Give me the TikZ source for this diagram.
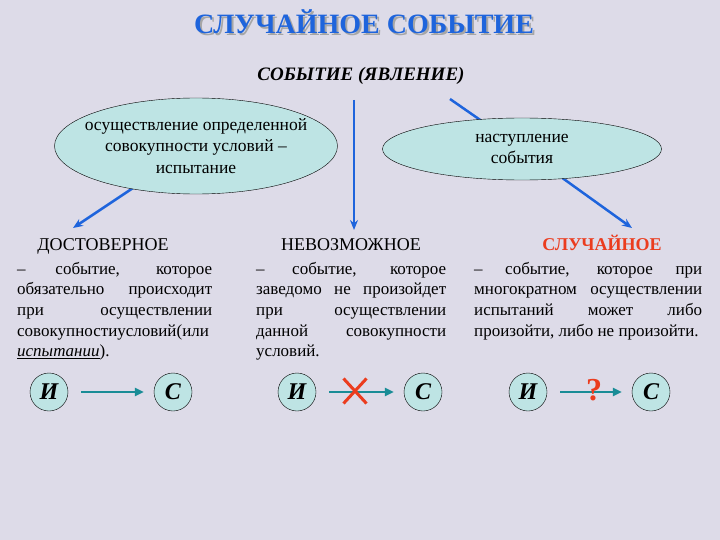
\documentclass[tikz,border=0pt]{standalone}
\usepackage{fontspec}
\setmainfont{Liberation Serif}
\usetikzlibrary{arrows.meta,shapes.geometric,shapes.misc}
\definecolor{fon}{RGB}{221,219,232}
\definecolor{sinij}{RGB}{30,100,220}
\definecolor{birjuza}{RGB}{190,228,228}
\definecolor{morskoj}{RGB}{25,140,150}
\definecolor{krasnyj}{RGB}{235,60,30}
\begin{document}
\begin{tikzpicture}[x=1pt,y=-1pt,
		oval/.style={ellipse,draw,fill=birjuza,inner xsep=-12pt,inner ysep=-6pt,align=center,font=\fontsize{17.5}{21.5}\selectfont},
		strela/.style={sinij,line width=2.5pt,-{Stealth[length=10pt,width=8pt]}},
		kolonka/.style={anchor=north west,inner sep=0pt,text width=#1,align=justify,font=\fontsize{17}{20.6}\selectfont},
		zag/.style={anchor=base,font=\fontsize{18}{20}\selectfont},
		krug/.style={circle,draw,fill=birjuza,minimum size=38pt,inner sep=0pt,font=\fontsize{24}{24}\selectfont\bfseries\itshape},
		svjaz/.style={morskoj,line width=2.5pt,shorten <=13pt,shorten >=10pt,-{Triangle[length=9pt,width=8pt]}}]
	\fill[fon] (0,0) rectangle (720,540);
	% zagolovok
	\node[gray!70,font=\fontsize{28}{30}\selectfont\bfseries] at (366,24) {СЛУЧАЙНОЕ СОБЫТИЕ};
	\node[sinij,font=\fontsize{28}{30}\selectfont\bfseries] (titul) at (364,22) {СЛУЧАЙНОЕ СОБЫТИЕ};
	\node[font=\fontsize{19}{21}\selectfont\bfseries\itshape] (javl) at (361,76) {СОБЫТИЕ (ЯВЛЕНИЕ)};
	\path (450,99) coordinate (s3) (632,228) coordinate (h3)
		(354,100) coordinate (s2) (354,230) coordinate (h2)
		(73,228) coordinate (h1);
	% strelki pod ovalami
	\draw[sinij,line width=2.5pt] (s3)--(522,149);
	\draw[strela] (522,149)--(h3);
	\draw[strela] (s2)--(h2);
	\draw[strela] (196,146)--(h1);
	\node[oval,minimum width=283pt,minimum height=96pt] (lev) at (196,146) {осуществление определенной\\совокупности условий --\\испытание};
	\node[oval,minimum width=279pt,minimum height=62pt] (prav) at (522,149) {наступление\\события};
	% tri vida
	\node[zag] (dost) at (103,250) {ДОСТОВЕРНОЕ};
	\node[zag] (nevoz) at (351,250) {НЕВОЗМОЖНОЕ};
	\node[zag,krasnyj,font=\fontsize{18}{20}\selectfont\bfseries] (sluch) at (602,250) {СЛУЧАЙНОЕ};
	\node[kolonka=195pt] (t1) at (17,262) {-- событие, которое\linebreak обязательно происходит\linebreak при осуществлении\linebreak совокупностиусловий(или\linebreak \underline{\textit{испытании}}).};
	\node[kolonka=190pt] (t2) at (256,262) {-- событие, которое\linebreak заведомо не произойдет\linebreak при осуществлении\linebreak данной совокупности\linebreak условий.};
	\node[kolonka=228pt] (t3) at (474,262) {-- событие, которое при\linebreak многократном осуществлении\linebreak испытаний может либо\linebreak произойти, либо не произойти.};
	% ispytanie -> sobytie
	\foreach \n/\xi/\xc in {1/49/173, 2/297/423, 3/528/651}{
		\node[krug] (i\n) at (\xi,392) {И};
		\node[krug] (c\n) at (\xc,392) {С};
		\draw[svjaz] (i\n)--(c\n);
	}
	\node[cross out,draw=krasnyj,line width=3pt,minimum width=20pt,minimum height=22pt] (krest) at (355,391) {};
	\node[krasnyj,font=\fontsize{32}{32}\selectfont\bfseries] (vopros) at (594,390) {?};
\end{tikzpicture}
\end{document}
